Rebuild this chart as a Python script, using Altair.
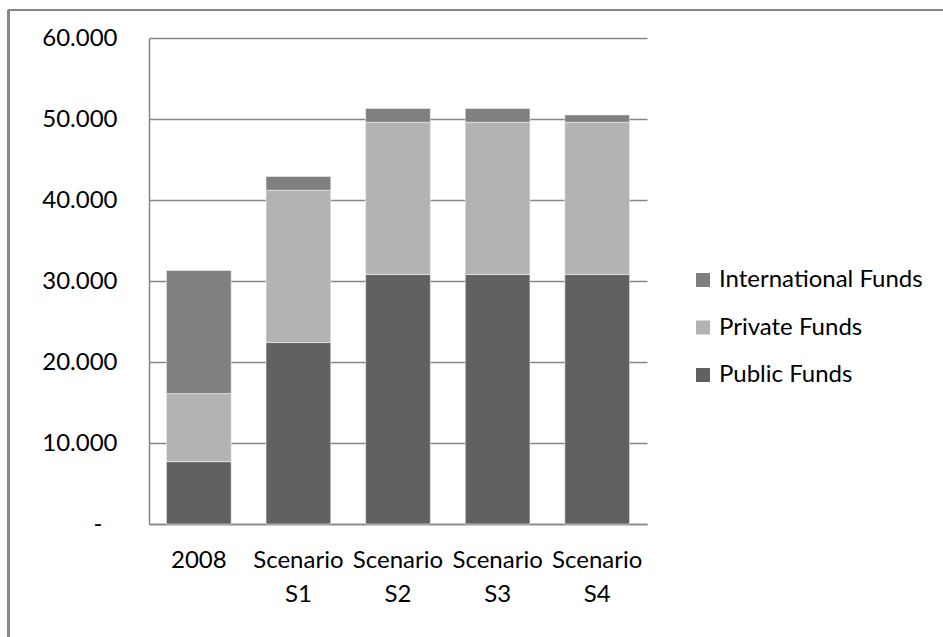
import altair as alt
import pandas as pd

categories = ["2008", "Scenario S1", "Scenario S2", "Scenario S3", "Scenario S4"]
public_funds = [7700, 22400, 30800, 30800, 30800]
private_funds = [8400, 18800, 18800, 18800, 18800]
international_funds = [15200, 1700, 1700, 1700, 900]

series_names = ["International Funds", "Private Funds", "Public Funds"]
series_colors = ["#808080", "#b3b3b3", "#616161"]

rows = []
for i, c in enumerate(categories):
    rows.append({"cat": c, "series": "Public Funds", "value": public_funds[i], "ord": 0})
    rows.append({"cat": c, "series": "Private Funds", "value": private_funds[i], "ord": 1})
    rows.append({"cat": c, "series": "International Funds", "value": international_funds[i], "ord": 2})
df = pd.DataFrame(rows)

FONT = "Lato"
FS = 24
GRID = "#868686"

bars = alt.Chart(df).mark_bar(stroke="#f0f0f0", strokeWidth=0.6).encode(
    x=alt.X("cat:N", sort=categories, title=None,
            scale=alt.Scale(paddingInner=0.35, paddingOuter=0.175),
            axis=alt.Axis(labelAngle=0, labelExpr="split(datum.label, ' ')",
                          labelBaseline="top", labelPadding=24, labelLineHeight=34,
                          ticks=False, domainColor=GRID, domainWidth=1.5,
                          labelFont=FONT, labelFontSize=FS, labelColor="#000000")),
    y=alt.Y("value:Q", stack="zero", title=None,
            scale=alt.Scale(domain=[0, 60000], nice=False),
            axis=alt.Axis(values=[0, 10000, 20000, 30000, 40000, 50000, 60000],
                          labelExpr="datum.value == 0 ? '-' : replace(format(datum.value, ','), ',', '.')",
                          ticks=False, domainColor=GRID, domainWidth=1.5,
                          gridColor=GRID, gridWidth=1.5,
                          labelPadding={"condition": {"test": "datum.value == 0", "value": 47}, "value": 32},
                          labelFont=FONT, labelFontSize=FS, labelColor="#000000")),
    color=alt.Color("series:N", scale=alt.Scale(domain=series_names, range=series_colors),
                    legend=alt.Legend(title=None, orient="none", legendX=542, legendY=230,
                                      symbolType="square", symbolSize=196, symbolStrokeWidth=0,
                                      labelFont=FONT, labelFontSize=FS, labelColor="#000000",
                                      labelLimit=400, rowPadding=23.5, labelOffset=4)),
    order=alt.Order("ord:Q", sort="ascending"),
)

border_top = alt.Chart(df).mark_rule(color=GRID, strokeWidth=1.5).encode(
    x=alt.value(-141), x2=alt.value(900), y=alt.value(-28))
border_left = alt.Chart(df).mark_rule(color=GRID, strokeWidth=1.5).encode(
    x=alt.value(-140.5), y=alt.value(-28), y2=alt.value(700))

chart = alt.layer(bars, border_top, border_left).properties(
    width=498, height=486,
    autosize=alt.AutoSizeParams(type="none"),
    padding={"left": 149, "top": 38, "right": 296, "bottom": 113},
).configure_view(stroke=None).configure_axis(gridOpacity=1)

chart.save("out.html", embed_options={"renderer": "svg", "actions": False})
